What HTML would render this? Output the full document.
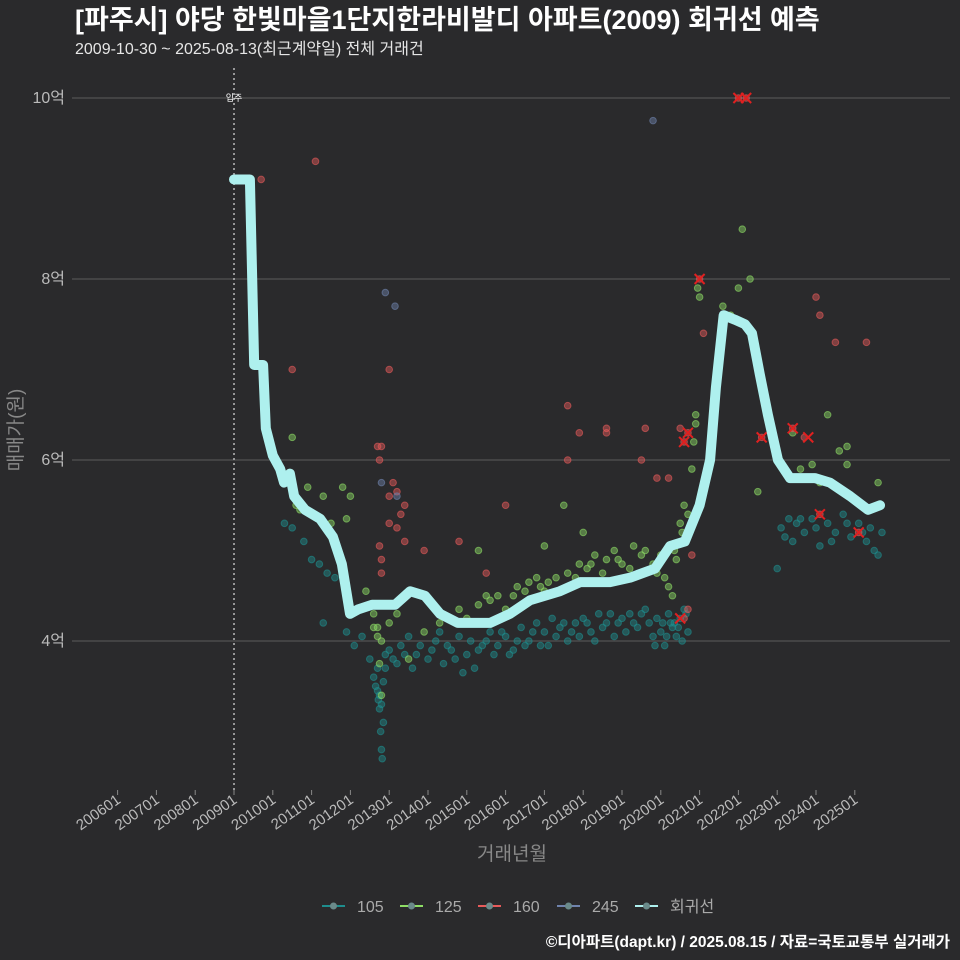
<!DOCTYPE html>
<html><head><meta charset="utf-8">
<style>
body{margin:0;background:#2a2a2c;font-family:"Liberation Sans","Noto Sans CJK KR",sans-serif;}
svg{display:block}
</style></head>
<body>
<svg id="chart" width="960" height="960" xmlns="http://www.w3.org/2000/svg">
<rect width="960" height="960" fill="#2a2a2c"/>
<text x="75" y="29" fill="#ffffff" font-size="27" font-weight="bold">[파주시] 야당 한빛마을1단지한라비발디 아파트(2009) 회귀선 예측</text>
<text x="75" y="54" fill="#e6e6e6" font-size="16">2009-10-30 ~ 2025-08-13(최근계약일) 전체 거래건</text>
<text transform="translate(22,430) rotate(-90)" text-anchor="middle" fill="#888" font-size="19">매매가(원)</text>
<text x="512" y="860" text-anchor="middle" fill="#888" font-size="19">거래년월</text>
<text x="950" y="947" text-anchor="end" fill="#fff" font-size="15.5" font-weight="bold">©디아파트(dapt.kr) / 2025.08.15 / 자료=국토교통부 실거래가</text>
<g id="grid"></g><g id="pts"></g><g id="reg"></g><g id="axes"></g><g id="legend"></g>
</svg>
<script>
const yTicks=[4,6,8,10];
const yTickLabels=["4억","6억","8억","10억"];
const xTicks=[2006,2007,2008,2009,2010,2011,2012,2013,2014,2015,2016,2017,2018,2019,2020,2021,2022,2023,2024,2025];
const xTickLabels=["200601","200701","200801","200901","201001","201101","201201","201301","201401","201501","201601","201701","201801","201901","202001","202101","202201","202301","202401","202501"];
const moveIn=2009.0;
const s105=[[2010.3,5.3],[2010.5,5.25],[2010.8,5.1],[2011.0,4.9],[2011.2,4.85],[2011.4,4.75],[2011.6,4.7],[2011.3,4.2],[2011.9,4.1],[2012.1,3.95],[2012.3,4.05],[2012.5,3.8],[2012.6,3.6],[2012.7,3.45],[2012.72,3.35],[2012.75,3.25],[2012.78,3.0],[2012.8,2.8],[2012.82,2.7],[2012.85,3.55],[2012.9,3.7],[2013.0,3.9],[2013.2,3.75],[2013.4,3.85],[2013.6,3.7],[2013.8,3.95],[2014.0,3.8],[2014.2,4.0],[2014.4,3.75],[2014.6,3.9],[2014.8,4.05],[2015.0,3.85],[2015.2,3.7],[2015.4,3.95],[2015.6,4.1],[2015.8,3.95],[2016.0,4.05],[2016.2,3.9],[2016.4,4.15],[2016.6,4.0],[2016.8,4.2],[2017.0,4.1],[2017.2,4.25],[2017.4,4.15],[2017.6,4.0],[2017.8,4.2],[2018.0,4.25],[2018.2,4.1],[2018.4,4.3],[2018.6,4.2],[2018.8,4.05],[2019.0,4.25],[2019.2,4.3],[2019.4,4.15],[2019.6,4.35],[2019.8,4.05],[2019.9,4.25],[2020.0,4.1],[2020.1,3.95],[2020.2,4.3],[2020.3,4.15],[2020.35,4.2],[2020.4,4.05],[2020.5,4.25],[2020.6,4.35],[2020.7,4.1],[2013.1,3.8],[2014.9,3.65],[2015.1,4.0],[2016.1,3.85],[2017.1,3.95],[2023.0,4.8],[2023.1,5.25],[2023.3,5.35],[2023.4,5.1],[2023.5,5.3],[2023.7,5.2],[2023.9,5.35],[2024.1,5.05],[2024.3,5.3],[2024.5,5.2],[2024.7,5.4],[2024.9,5.15],[2025.1,5.3],[2025.3,5.1],[2025.5,5.0],[2025.6,4.95],[2025.7,5.2],
[2012.65,3.5],[2012.7,3.7],[2012.75,3.4],[2012.8,3.3],[2012.85,3.1],[2012.9,3.85],[2013.3,3.95],[2013.5,4.05],[2013.7,3.85],[2014.1,3.9],[2014.3,4.1],[2014.5,3.95],[2014.7,3.8],[2015.3,3.9],[2015.5,4.0],[2015.7,3.85],[2015.9,4.1],[2016.3,4.0],[2016.5,3.95],[2016.7,4.1],[2016.9,3.95],[2017.3,4.05],[2017.5,4.2],[2017.7,4.1],[2017.9,4.05],[2018.1,4.2],[2018.3,4.0],[2018.5,4.15],[2018.7,4.3],[2018.9,4.2],[2019.1,4.1],[2019.3,4.2],[2019.5,4.3],[2019.7,4.2],[2019.85,3.95],[2020.05,4.2],[2020.15,4.05],[2020.25,4.2],[2020.45,4.15],[2020.55,4.0],[2020.65,4.3],[2023.2,5.15],[2023.6,5.35],[2024.0,5.25],[2024.4,5.1],[2024.8,5.3],[2025.2,5.2],[2025.4,5.25]];
const s125=[[2010.5,6.25],[2010.6,5.5],[2010.9,5.7],[2011.3,5.6],[2011.8,5.7],[2012.0,5.6],[2011.9,5.35],[2012.4,4.55],[2012.5,4.4],[2012.6,4.15],[2012.7,4.15],[2012.75,3.75],[2012.8,3.4],[2012.9,4.4],[2013.2,4.3],[2013.5,3.8],[2013.9,4.1],[2014.3,4.2],[2014.8,4.35],[2015.0,4.25],[2015.3,4.4],[2015.5,4.5],[2015.8,4.5],[2016.0,4.35],[2016.3,4.6],[2016.6,4.65],[2016.8,4.7],[2017.0,4.55],[2017.3,4.7],[2017.6,4.75],[2017.9,4.85],[2018.1,4.8],[2018.3,4.95],[2018.6,4.9],[2018.8,5.0],[2019.0,4.85],[2019.3,5.05],[2019.5,4.95],[2019.8,4.85],[2020.0,4.95],[2020.1,4.7],[2020.2,4.6],[2020.3,4.5],[2020.4,4.9],[2020.5,5.3],[2020.6,5.5],[2020.8,5.9],[2020.9,6.5],[2020.95,7.9],[2021.0,7.8],[2021.6,7.7],[2021.8,7.6],[2022.0,7.9],[2022.1,8.55],[2022.3,8.0],[2022.5,5.65],[2023.4,6.3],[2023.6,5.9],[2023.9,5.95],[2024.1,5.75],[2024.3,6.5],[2024.6,6.1],[2024.8,6.15],[2024.8,5.95],[2025.6,5.75],[2018.0,5.2],[2017.0,5.05],[2015.3,5.0],[2017.5,5.5],
[2012.6,4.3],[2012.7,4.05],[2012.8,4.0],[2013.0,4.2],[2015.6,4.45],[2016.2,4.5],[2016.5,4.55],[2016.9,4.6],[2017.1,4.65],[2017.8,4.7],[2018.2,4.85],[2018.5,4.75],[2018.9,4.9],[2019.2,4.8],[2019.6,5.0],[2019.9,4.75],[2020.35,5.0],[2020.55,5.2],[2020.7,5.4],[2020.85,6.2],[2020.9,6.4],[2010.7,5.45],[2011.5,5.3]];
const s160=[[2009.7,9.1],[2011.1,9.3],[2010.5,7.0],[2012.7,6.15],[2012.8,6.15],[2012.75,6.0],[2013.0,5.6],[2013.1,5.75],[2013.2,5.65],[2013.3,5.4],[2013.4,5.5],[2013.0,5.3],[2013.2,5.25],[2013.4,5.1],[2012.75,5.05],[2012.8,4.9],[2012.8,4.75],[2013.0,7.0],[2013.9,5.0],[2014.8,5.1],[2015.5,4.75],[2016.0,5.5],[2017.6,6.6],[2017.6,6.0],[2017.9,6.3],[2018.6,6.35],[2018.6,6.3],[2019.5,6.0],[2019.6,6.35],[2019.9,5.8],[2020.2,5.8],[2020.5,6.35],[2020.6,6.2],[2020.7,6.3],[2021.0,8.0],[2021.1,7.4],[2021.4,6.75],[2020.6,4.25],[2020.7,4.35],[2020.8,4.95],[2022.0,10.0],[2022.2,10.0],[2022.6,6.25],[2023.4,6.35],[2023.7,6.25],[2024.0,7.8],[2024.1,7.6],[2024.5,7.3],[2024.1,5.4],[2025.1,5.2],[2025.3,7.3]];
const s245=[[2012.9,7.85],[2013.15,7.7],[2019.8,9.75],[2012.8,5.75],[2013.2,5.6]];
const xMarks=[[2020.6,6.2],[2020.7,6.3],[2021.0,8.0],[2020.5,4.25],[2022.0,10.0],[2022.2,10.0],[2022.6,6.25],[2023.4,6.35],[2023.8,6.25],[2024.1,5.4],[2025.1,5.2]];
const regYears=[2009.0,2009.41,2009.52,2009.75,2009.82,2010.0,2010.19,2010.29,2010.44,2010.55,2010.83,2011.22,2011.55,2011.78,2011.99,2012.2,2012.56,2013.15,2013.54,2013.92,2014.31,2014.77,2015.6,2016.11,2016.63,2017.4,2017.92,2018.69,2019.21,2019.85,2020.24,2020.62,2021.0,2021.27,2021.42,2021.62,2021.91,2022.17,2022.35,2022.55,2022.76,2023.02,2023.33,2023.97,2024.36,2024.88,2025.34,2025.65];
const regVals=[9.1,9.1,7.05,7.05,6.35,6.05,5.9,5.75,5.85,5.6,5.45,5.35,5.15,4.85,4.3,4.35,4.4,4.4,4.55,4.5,4.3,4.2,4.2,4.3,4.45,4.55,4.65,4.65,4.7,4.8,5.05,5.1,5.5,6.0,6.8,7.6,7.55,7.5,7.4,6.95,6.5,6.0,5.8,5.8,5.75,5.6,5.45,5.5];

const NS="http://www.w3.org/2000/svg";
const X=y=>234+(y-2009)*38.8;
const Y=v=>641-(v-4)*90.5;
function mk(tag,attrs,parent){const e=document.createElementNS(NS,tag);for(const k in attrs)e.setAttribute(k,attrs[k]);parent.appendChild(e);return e;}
const grid=document.getElementById('grid'),axes=document.getElementById('axes'),pts=document.getElementById('pts'),reg=document.getElementById('reg'),leg=document.getElementById('legend');
yTicks.forEach((t,i)=>{
  const l=mk('line',{x1:72,x2:950,y1:Y(t),y2:Y(t),stroke:'#5c5c5c','stroke-width':1},grid);
  
  
  const tx=mk('text',{x:65,y:Y(t)+5,'text-anchor':'end',fill:'#bbb','font-size':16},axes);
  tx.textContent=yTickLabels[i];
  
  
});
xTicks.forEach((t,i)=>{
  const tk=mk('line',{x1:X(t),x2:X(t),y1:790,y2:795,stroke:'#888'},axes);
  
  
  const tx=mk('text',{transform:`translate(${X(t)+4},${802}) rotate(-35)`,'text-anchor':'end',fill:'#bbb','font-size':15},axes);
  tx.textContent=xTickLabels[i];
  
  
});
const mv=mk('line',{x1:X(moveIn),x2:X(moveIn),y1:68,y2:790,stroke:'#bbb','stroke-dasharray':'2,3','stroke-width':1.5},grid);


const mvt=mk('text',{x:X(moveIn),y:101,'text-anchor':'middle',fill:'#fff','font-size':9},axes);
mvt.textContent='입주';


function series(data,color,name){data.forEach(d=>{
  const c=mk('circle',{cx:X(d[0]),cy:Y(d[1]),r:3.3,fill:color,'fill-opacity':0.45,stroke:color,'stroke-opacity':0.6},pts);
  
  
});}
series(s105,'#1e8d8d','point-105');
series(s125,'#8ede66','point-125');
series(s160,'#e65a5a','point-160');
series(s245,'#6f83ad','point-245');
xMarks.forEach(d=>{
  const g=mk('path',{d:`M${X(d[0])-5},${Y(d[1])-5}L${X(d[0])+5},${Y(d[1])+5}M${X(d[0])-5},${Y(d[1])+5}L${X(d[0])+5},${Y(d[1])-5}`,stroke:'#e02020','stroke-width':2},pts);
  
  
});
const rp=mk('polyline',{points:regYears.map((y,i)=>X(y)+','+Y(regVals[i])).join(' '),fill:'none',stroke:'#aef0ee','stroke-width':10,'stroke-linejoin':'round','stroke-linecap':'round'},reg);


const items=[['105','#1e8d8d',322],['125','#8ede66',400],['160','#e65a5a',478],['245','#6f83ad',557],['회귀선','#aef0ee',635]];
items.forEach(it=>{
  const g=mk('g',{},leg);
  
  
  mk('line',{x1:it[2],x2:it[2]+23,y1:906,y2:906,stroke:it[1],'stroke-width':2},g);
  mk('circle',{cx:it[2]+11.5,cy:906,r:3.5,fill:'#6a8a8a'},g);
  const t=mk('text',{x:it[2]+35,y:912,fill:'#aaa','font-size':16},g);
  t.textContent=it[0];
});
</script>
</body></html>
